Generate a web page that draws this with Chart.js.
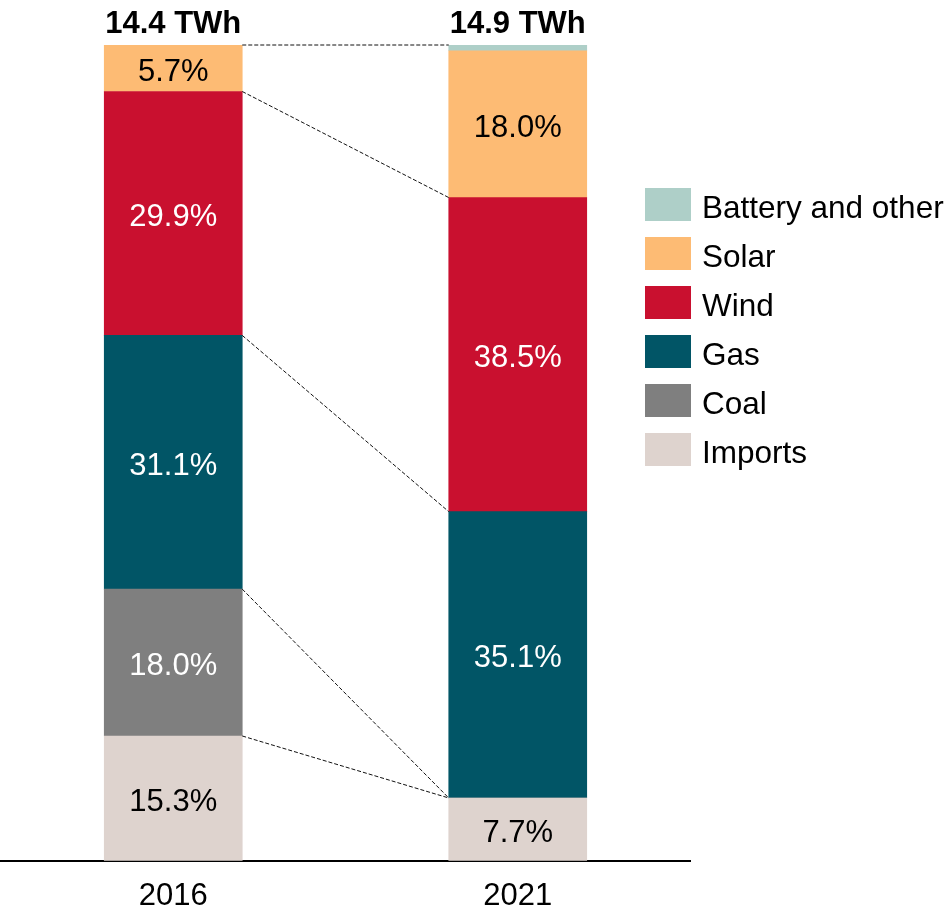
<!DOCTYPE html>
<html>
<head>
<meta charset="utf-8">
<script src="https://cdn.jsdelivr.net/npm/chart.js@4/dist/chart.umd.min.js"></script>
<style>
  html, body { margin: 0; padding: 0; background: #fff; }
  #wrap { width: 950px; height: 912px; position: relative; }
</style>
</head>
<body>
<div id="wrap"><canvas id="c"></canvas></div>
<script>
const years = ['2016', '2021'];
const totalsTWh = [14.4, 14.9];
const seriesNames = ['Imports', 'Coal', 'Gas', 'Wind', 'Solar', 'Battery and other'];
const imports = [15.3, 7.7];
const coal = [18.0, 0];
const gas = [31.1, 35.1];
const wind = [29.9, 38.5];
const solar = [5.7, 18.0];
const battery = [0, 0.7];
const colors = ['#DED3CE', '#7F7F7F', '#015566', '#C9102F', '#FDBB74', '#AECFC8'];
const labelColors = ['#000', '#fff', '#fff', '#fff', '#000', '#000'];
const values = [imports, coal, gas, wind, solar, battery];

const FONT = '"Liberation Sans", Arial, sans-serif';

const overlayPlugin = {
  id: 'overlay',
  afterDatasetsDraw(chart) {
    const ctx = chart.ctx;
    const y = chart.scales.y;
    const m0 = chart.getDatasetMeta(0);
    const b0 = m0.data[0], b1 = m0.data[1];
    const xL = b0.x + b0.width / 2;
    const xR = b1.x - b1.width / 2;
    // connector lines at cumulative boundaries
    ctx.save();
    ctx.strokeStyle = '#111';
    ctx.lineWidth = 1;
    ctx.setLineDash([4, 2]);
    const n = chart.data.datasets.length;
    const cum = [0, 0];
    const bounds = [];
    chart.data.datasets.forEach((ds, i) => {
      cum[0] += ds.data[0];
      cum[1] += ds.data[1];
      if (i < 4 || i === n - 1) bounds.push([cum[0], cum[1]]);
    });
    bounds.forEach(([a, b]) => {
      ctx.beginPath();
      ctx.moveTo(xL, y.getPixelForValue(a));
      ctx.lineTo(xR, y.getPixelForValue(b));
      ctx.stroke();
    });
    ctx.restore();

    // value labels in segments
    ctx.save();
    ctx.font = '31px ' + FONT;
    ctx.textAlign = 'center';
    ctx.textBaseline = 'middle';
    chart.data.datasets.forEach((ds, i) => {
      const meta = chart.getDatasetMeta(i);
      meta.data.forEach((bar, j) => {
        const v = ds.data[j];
        if (v < 3) return;
        ctx.fillStyle = labelColors[i];
        ctx.fillText(v.toFixed(1) + '%', bar.x, (bar.y + bar.base) / 2 + 4);
      });
    });
    // totals above bars
    ctx.font = 'bold 31px ' + FONT;
    ctx.fillStyle = '#000';
    m0.data.forEach((bar, j) => {
      ctx.fillText(totalsTWh[j].toFixed(1) + ' TWh', bar.x, 24);
    });
    ctx.restore();

    // legend (top entry = top of stack)
    ctx.save();
    ctx.font = '31.5px ' + FONT;
    ctx.textAlign = 'left';
    ctx.textBaseline = 'middle';
    for (let k = 0; k < n; k++) {
      const i = n - 1 - k;
      const ds = chart.data.datasets[i];
      const top = 188 + 49 * k;
      ctx.fillStyle = ds.backgroundColor;
      ctx.fillRect(645, top, 46, 33);
      ctx.fillStyle = '#000';
      ctx.fillText(ds.label, 702, top + 21);
    }
    ctx.restore();
  }
};

new Chart(document.getElementById('c'), {
  type: 'bar',
  data: {
    labels: years,
    datasets: seriesNames.map((name, i) => ({
      label: name,
      data: values[i],
      backgroundColor: colors[i],
      borderWidth: 0,
      barThickness: 138
    }))
  },
  options: {
    responsive: true,
    maintainAspectRatio: false,
    animation: false,
    layout: { padding: { left: 1, right: 260, top: 45, bottom: -20 } },
    plugins: { legend: { display: false }, tooltip: { enabled: false } },
    scales: {
      x: {
        stacked: true,
        grid: { display: false, drawTicks: false },
        border: { display: true, color: '#000', width: 2 },
        ticks: { color: '#000', padding: 17, font: { family: FONT, size: 31 } }
      },
      y: {
        stacked: true,
        display: false,
        min: 0,
        max: 100
      }
    }
  },
  plugins: [overlayPlugin]
});
</script>
</body>
</html>
